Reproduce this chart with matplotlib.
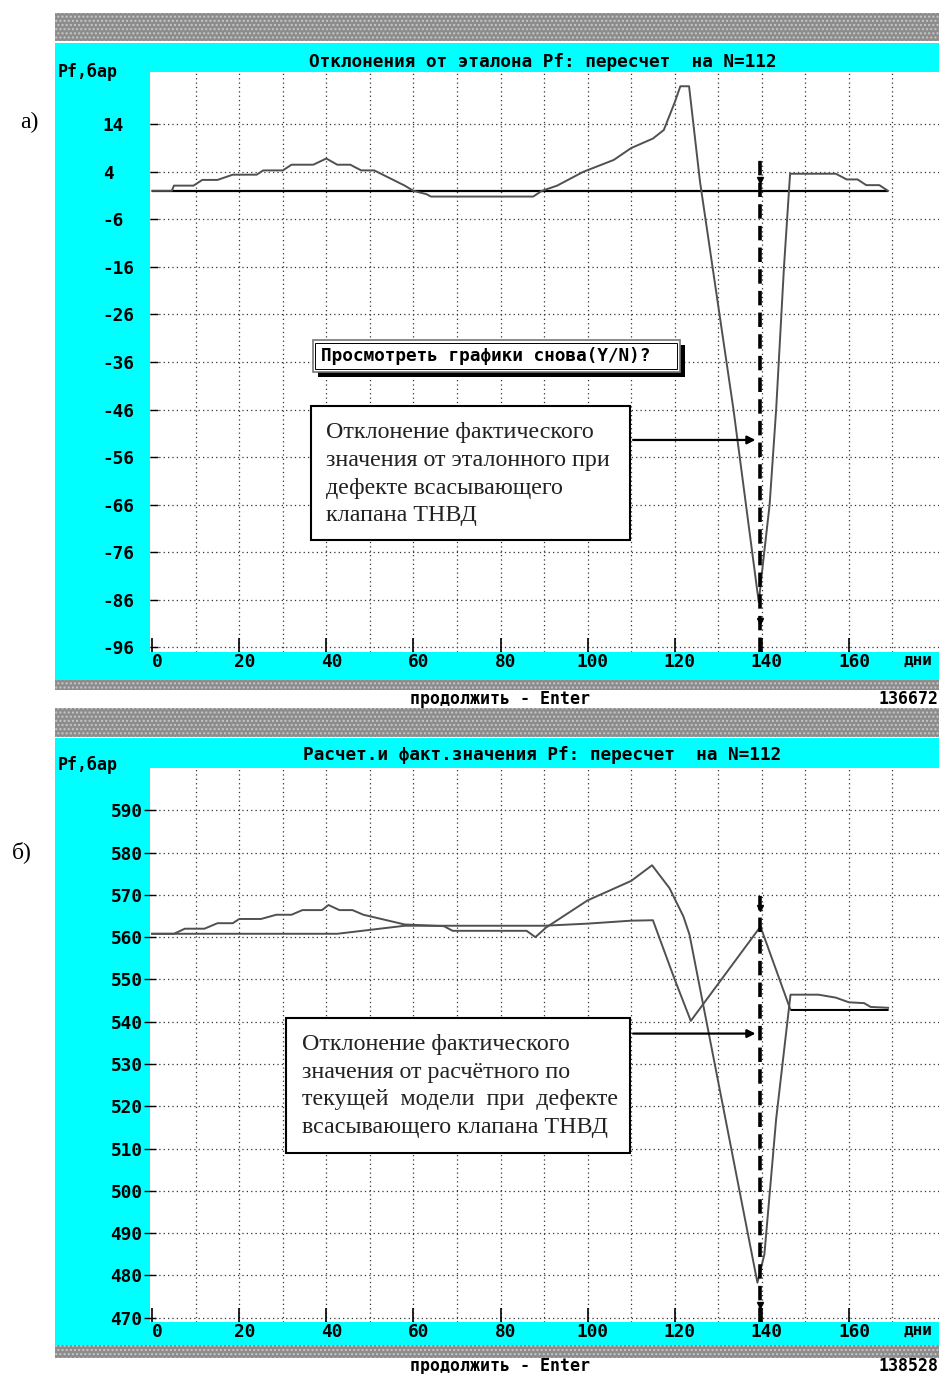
import matplotlib
matplotlib.use("Agg")
import matplotlib.pyplot as plt
import matplotlib.transforms as mtrans
from matplotlib.patches import Rectangle

W, H = 939, 1374

# x axis (days)
day_ticks = [0, 20, 40, 60, 80, 100, 120, 140, 160]
grid_days = [10, 20, 30, 40, 50, 60, 70, 80, 90, 100, 110, 120, 130, 140, 150, 160, 170]

# panel a: deviation from the reference, bar
dev_ticks = [14, 4, -6, -16, -26, -36, -46, -56, -66, -76, -86, -96]
dev_days = [0, 4.5, 5, 9.5, 11.5, 15, 18.5, 24, 25.5, 30, 32, 37, 40, 42.5, 45.5,
            48, 51, 58, 60, 63, 64, 87.5, 89.5, 93, 99, 106, 110, 115, 117.5,
            120, 121.3, 123.3, 125.8, 133.5, 139.3, 140.2, 141.8, 143.3, 145.1,
            146.5, 157, 159.5, 162, 164, 167, 169]
dev_vals = [0, 0, 1.1, 1.1, 2.3, 2.3, 3.4, 3.4, 4.3, 4.3, 5.5, 5.5, 6.8, 5.5, 5.5,
            4.3, 4.3, 1.1, 0, -0.7, -1.2, -1.2, 0, 1.1, 4, 6.5, 9, 11, 12.8,
            18.6, 22, 22, 2, -46, -86.5, -79, -66, -46, -16,
            3.6, 3.6, 2.4, 2.4, 1.2, 1.2, 0]
ref_line_end = 169

# panel b: actual and calculated Pf, bar
pf_ticks = [590, 580, 570, 560, 550, 540, 530, 520, 510, 500, 490, 480, 470]
act_days = [0, 5, 7.5, 12, 15, 18.5, 20, 25, 28.5, 32, 34.5, 39, 40.5, 43, 46,
            48.5, 58, 67, 69, 86, 88, 90.5, 100, 110, 114.8, 118.8, 122, 123.4,
            139, 140.6, 143.3, 146.6, 153, 157, 160, 163.5, 165, 169]
act_vals = [560.8, 560.8, 562.0, 562.0, 563.3, 563.3, 564.3, 564.3, 565.3, 565.3,
            566.4, 566.4, 567.6, 566.4, 566.4, 565.3, 563.0, 562.6, 561.5, 561.5,
            560.0, 562.3, 568.7, 573.3, 577.0, 571.6, 564.9, 560.6,
            478.3, 485.0, 517.0, 546.4, 546.4, 545.7, 544.6, 544.4, 543.5, 543.3]
calc_days = [0, 42.5, 58, 90, 100, 110, 115, 120, 123.7, 139.7, 146.6, 169]
calc_vals = [560.8, 560.8, 562.7, 562.7, 563.2, 563.9, 564.0, 550.0, 540.2,
             562.5, 542.8, 542.8]

defect_day = 139.6
dev_marks = [2.3, -90.5]
pf_marks = [566.9, 473.1]

MONO = ["DejaVu Sans Mono"]
SERIF = ["Liberation Serif", "DejaVu Serif"]
CYAN = "#00ffff"
LINE = "#505050"
GRID = "#333333"
FS = 12.8


def fx(x):
    return x / W


def fy(y):
    return 1 - y / H


def band(fig, y0, y1, color, hatch=None):
    r = Rectangle((fx(55), fy(y1)), fx(W - 55), (y1 - y0) / H,
                  transform=fig.transFigure, facecolor=color,
                  edgecolor="#c8c8c8" if hatch else "none", hatch=hatch,
                  linewidth=0, zorder=-5)
    fig.add_artist(r)


fig = plt.figure(figsize=(W / 100, H / 100), dpi=100)
fig.patch.set_facecolor("white")

# screens
band(fig, 13, 41, "#8c8c8c", "....")
band(fig, 43, 680, CYAN)
band(fig, 680, 690, "#8c8c8c", "....")
band(fig, 708, 737, "#8c8c8c", "....")
band(fig, 738, 1345, CYAN)
band(fig, 1345, 1358, "#8c8c8c", "....")

fig.text(fx(20), fy(122), "а)", family=SERIF, fontsize=17, va="center")
fig.text(fx(12), fy(852), "б)", family=SERIF, fontsize=17, va="center")

fig.text(fx(543), fy(62), "Отклонения от эталона Pf: пересчет  на N=112",
         family=MONO, weight="bold", fontsize=FS, ha="center", va="center")
fig.text(fx(542), fy(755), "Расчет.и факт.значения Pf: пересчет  на N=112",
         family=MONO, weight="bold", fontsize=FS, ha="center", va="center")
for y in (72, 765):
    fig.text(fx(58), fy(y), "Pf,бар", family=MONO, weight="bold",
             fontsize=12, ha="left", va="center")
for y, num in ((699, "136672"), (1366, "138528")):
    fig.text(fx(500), fy(y), "продолжить - Enter", family=MONO, weight="bold",
             fontsize=12, ha="center", va="center")
    fig.text(fx(938), fy(y), num, family=MONO, weight="bold",
             fontsize=12, ha="right", va="center")
for y in (660, 1330):
    fig.text(fx(918), fy(y), "дни", family=MONO, weight="bold",
             fontsize=11.5, ha="center", va="center")

shift = mtrans.ScaledTranslation(5 / 100, 0, fig.dpi_scale_trans)


def make_axes(top, bottom):
    ax = fig.add_axes([fx(150), fy(bottom), 1 - fx(150), (bottom - top) / H])
    ax.set_facecolor("white")
    for s in ax.spines.values():
        s.set_visible(False)
    ax.set_xlim(-0.5, 180.7)
    for d in grid_days:
        ax.axvline(d, color=GRID, lw=0.9, ls=(0, (1, 2.5)), zorder=1)
    ax.set_xticks(day_ticks)
    ax.set_xticklabels([str(d) for d in day_ticks], family=MONO,
                       weight="bold", fontsize=FS)
    ax.tick_params(axis="x", direction="in", length=10, width=1.2, pad=1)
    for lbl in ax.get_xticklabels():
        lbl.set_transform(lbl.get_transform() + shift)
    return ax


# panel a
ax1 = make_axes(72, 652)
ax1.set_ylim(-97, 25)
for v in dev_ticks:
    ax1.axhline(v, color=GRID, lw=0.9, ls=(0, (1, 2.5)), zorder=1)
ax1.set_yticks(dev_ticks)
ax1.set_yticklabels([str(v) for v in dev_ticks], family=MONO,
                    weight="bold", fontsize=FS)
ax1.tick_params(axis="y", direction="in", length=6, width=1, pad=34)
for lbl in ax1.get_yticklabels():
    lbl.set_horizontalalignment("left")
ax1.hlines(0, 0, ref_line_end, color="black", lw=1.6, zorder=3)
ax1.plot(dev_days, dev_vals, color=LINE, lw=1.4, zorder=4)
ax1.vlines(defect_day, -97, 6.6, color="black", lw=2.6,
           linestyles=(0, (4, 2)), zorder=5)
ax1.plot([defect_day] * len(dev_marks), dev_marks, "v", color="black",
         ms=5, zorder=6)

# question pop-up
ax1.add_patch(Rectangle((38.0, -39.2), 84.3, 6.7, facecolor="black",
                        edgecolor="none", zorder=7))
ax1.add_patch(Rectangle((36.9, -38.1), 84.3, 6.7, facecolor="white",
                        edgecolor="#777777", lw=1.2, zorder=8))
ax1.add_patch(Rectangle((37.5, -37.5), 83.1, 5.5, facecolor="none",
                        edgecolor="black", lw=0.7, zorder=8))
ax1.text(38.8, -34.8, "Просмотреть графики снова(Y/N)?", family=MONO,
         weight="bold", fontsize=FS, ha="left", va="center", zorder=9)

# comment box a
ax1.add_patch(Rectangle((36.5, -73.5), 73.3, 28.2, facecolor="white",
                        edgecolor="black", lw=1.5, zorder=8))
ax1.text(40.0, -59.6, "Отклонение фактического\nзначения от эталонного при\n"
         "дефекте всасывающего\nклапана ТНВД", family=SERIF, fontsize=17.3,
         color="#222222", ha="left", va="center", linespacing=1.42, zorder=9)
ax1.annotate("", xy=(defect_day - 0.4, -52.4), xytext=(109.8, -52.4),
             arrowprops=dict(arrowstyle="-|>", color="black", lw=1.6,
                             mutation_scale=12), zorder=9)

# panel b
ax2 = make_axes(768, 1322)
ax2.set_ylim(469, 600)
for v in pf_ticks:
    ax2.axhline(v, color=GRID, lw=0.9, ls=(0, (1, 2.5)), zorder=1)
ax2.set_yticks(pf_ticks)
ax2.set_yticklabels([str(v) for v in pf_ticks], family=MONO,
                    weight="bold", fontsize=FS)
ax2.tick_params(axis="y", direction="inout", length=9, width=1, pad=1)
ax2.plot(act_days, act_vals, color=LINE, lw=1.4, zorder=4)
ax2.plot(calc_days, calc_vals, color=LINE, lw=1.4, zorder=4)
ax2.hlines(calc_vals[-1], calc_days[-2], calc_days[-1], color="black",
           lw=1.4, zorder=4)
ax2.vlines(defect_day, 469, 571.5, color="black", lw=2.6,
           linestyles=(0, (4, 2)), zorder=5)
ax2.plot([defect_day] * len(pf_marks), pf_marks, "v", color="black",
         ms=5, zorder=6)

ax2.add_patch(Rectangle((30.7, 509.0), 79.1, 31.8, facecolor="white",
                        edgecolor="black", lw=1.5, zorder=8))
ax2.text(34.4, 524.8, "Отклонение фактического\nзначения от расчётного по\n"
         "текущей  модели  при  дефекте\nвсасывающего клапана ТНВД",
         family=SERIF, fontsize=17.3, color="#222222", ha="left", va="center",
         linespacing=1.42, zorder=9)
ax2.annotate("", xy=(defect_day - 0.4, 537.2), xytext=(109.8, 537.2),
             arrowprops=dict(arrowstyle="-|>", color="black", lw=1.6,
                             mutation_scale=12), zorder=9)

fig.savefig("out.png", dpi=100)
